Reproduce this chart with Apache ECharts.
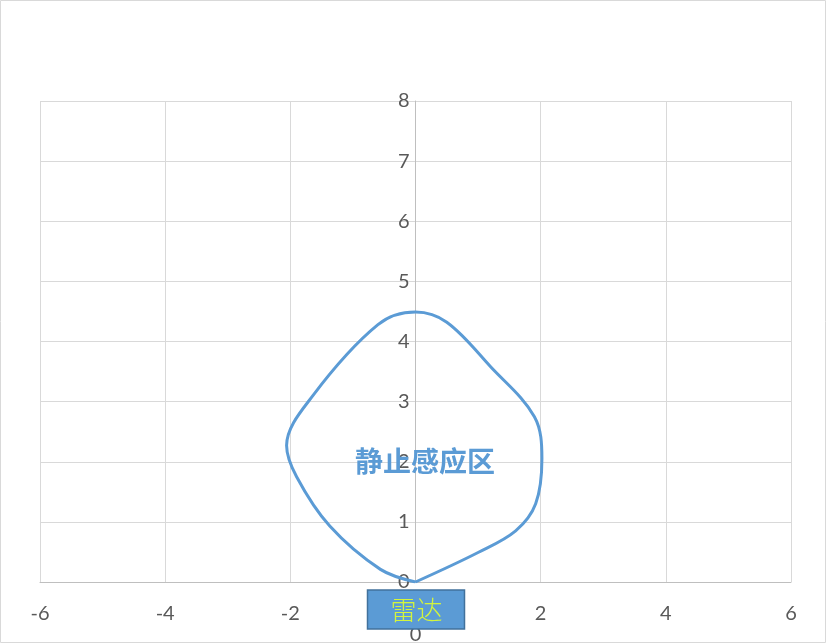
<!DOCTYPE html>
<html>
<head>
<meta charset="utf-8">
<script src="https://cdn.jsdelivr.net/npm/echarts@6/dist/echarts.min.js"></script>
<style>
  html, body { margin: 0; padding: 0; background: #fff; }
  #main { width: 827px; height: 644px; }
</style>
</head>
<body>
<div id="main"></div>
<script>
// outline of the zone, read clockwise from the radar at (0,0)
const zoneX = [0, 1.0, 1.6, 1.92, 2.02, 1.9, 1.2, 0.5, 0, -0.6, -1.64, -2.06, -1.9, -1.37, -0.56, 0];
const zoneY = [0, 0.49, 0.85, 1.3, 2.05, 2.75, 3.58, 4.32, 4.49, 4.28, 3.1, 2.27, 1.75, 0.93, 0.21, 0];
const zoneName = '静止感应区';
const radarName = '雷达';

const zoneData = zoneX.map((x, i) => [x, zoneY[i]]);

var chartDom = document.getElementById('main');
var myChart = echarts.init(chartDom);

const labelStyle = { color: '#595959', fontSize: 20, fontFamily: 'Lato' };

var option = {
  animation: false,
  grid: { left: 40, right: 36, top: 101, bottom: 62 },
  xAxis: {
    type: 'value',
    min: -6,
    max: 6,
    interval: 2,
    axisLine: { onZero: false, lineStyle: { color: '#bfbfbf', width: 1 } },
    axisTick: { show: false },
    axisLabel: Object.assign({ margin: 22 }, labelStyle),
    splitLine: { lineStyle: { color: '#d9d9d9', width: 1 } }
  },
  yAxis: {
    type: 'value',
    min: 0,
    max: 8,
    interval: 1,
    position: 'left',
    // sits on x = 0, half the plot width in from the left edge
    offset: -375.5,
    axisLine: { show: true, onZero: false, lineStyle: { color: '#bfbfbf', width: 1 } },
    axisTick: { show: false },
    axisLabel: Object.assign({ margin: 6 }, labelStyle),
    splitLine: { lineStyle: { color: '#d9d9d9', width: 1 } }
  },
  series: [
    {
      type: 'line',
      data: zoneData,
      smooth: 0.35,
      symbol: 'none',
      lineStyle: { color: '#5b9bd5', width: 3 },
      z: 3
    }
  ]
};

option && myChart.setOption(option);

// annotations placed from data coordinates
const centre = myChart.convertToPixel({ gridIndex: 0 }, [0.15, 2]);
const origin = myChart.convertToPixel({ gridIndex: 0 }, [0, 0]);

myChart.setOption({
  graphic: [
    {
      type: 'rect',
      shape: { x: 0.5, y: 0.5, width: 825, height: 642 },
      style: { fill: 'none', stroke: '#d9d9d9', lineWidth: 1 },
      silent: true
    },
    {
      type: 'text',
      x: centre[0],
      y: centre[1],
      z: 10,
      style: {
        text: zoneName,
        fill: '#5b9bd5',
        font: 'bold 28px "Noto Sans CJK SC"',
        align: 'center',
        verticalAlign: 'middle'
      }
    },
    {
      type: 'text',
      x: origin[0],
      y: origin[1] + 53,
      z: 5,
      style: {
        text: '0',
        fill: '#595959',
        font: '20px Lato',
        align: 'center',
        verticalAlign: 'middle'
      }
    },
    {
      type: 'rect',
      z: 10,
      shape: { x: origin[0] - 48, y: origin[1] + 8, width: 97, height: 39 },
      style: { fill: '#5b9bd5', stroke: '#41719c', lineWidth: 1.5 }
    },
    {
      type: 'text',
      z: 11,
      x: origin[0] + 1,
      y: origin[1] + 28,
      style: {
        text: radarName,
        fill: '#d4f53c',
        font: '300 26px "Noto Sans CJK SC"',
        align: 'center',
        verticalAlign: 'middle'
      }
    }
  ]
});
</script>
</body>
</html>
